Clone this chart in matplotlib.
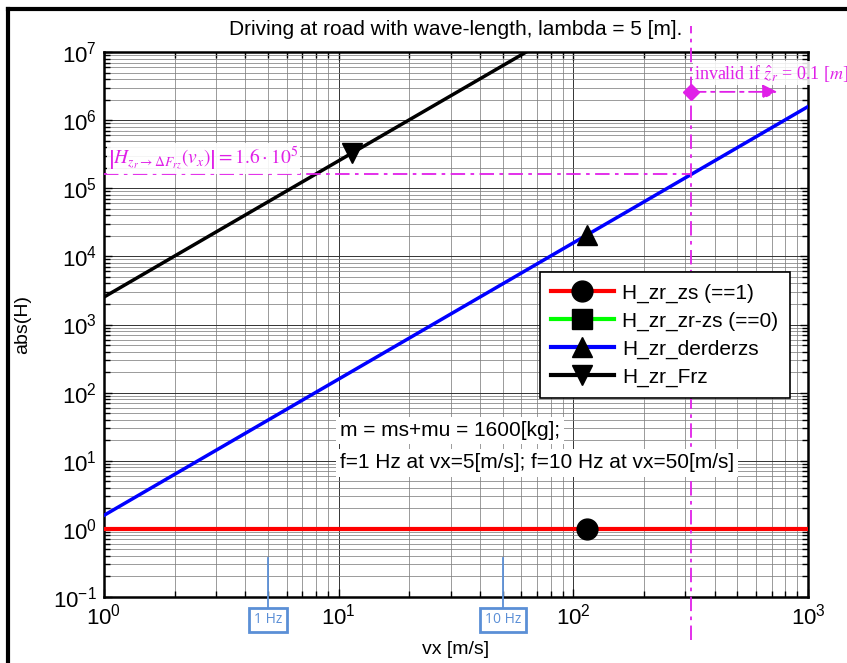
import matplotlib
matplotlib.use("Agg")
import matplotlib.pyplot as plt
from matplotlib.lines import Line2D

plt.rcParams['font.family'] = ['Liberation Sans', 'DejaVu Sans']
plt.rcParams['mathtext.fontset'] = 'stix'

# ---- data ----
vx_line = [1, 10, 100, 1000]
h_zs = [1, 1, 1, 1]
h_derderzs = [1.58, 158, 1.58e4, 1.58e6]
vx_frz = [1, 10, 63]
h_frz = [2.53e3, 2.53e5, 1.0e7]

marker_vx_zs = 114
marker_h_zs = 1
marker_vx_der = 114
marker_h_der = 2.05e4
marker_vx_frz = 11.4
marker_h_frz = 3.28e5

h_limit = 1.6e5
vx_limit = 318
hz_vx = [5, 50]
hz_labels = ['1 Hz', '10 Hz']

legend_labels = ['H_zr_zs (==1)', 'H_zr_zr-zs (==0)', 'H_zr_derderzs', 'H_zr_Frz']

fig = plt.figure(figsize=(8.47, 6.63), dpi=100)
ax = fig.add_axes([104/847, 1-597/663, (808-104)/847, (597-52)/663])
ax.set_xscale('log')
ax.set_yscale('log')
ax.set_xlim(1, 1000)
ax.set_ylim(0.1, 1e7)

mag = '#e020e8'
dashdot = (0, (8, 3, 2, 3))

ax.grid(True, which='major', color='0.2', lw=0.7)
ax.grid(True, which='minor', color='0.5', lw=0.55)
ax.set_axisbelow(True)

# lines
ax.plot(vx_line, h_zs, color='#ff0000', lw=3, zorder=3)
ax.plot(vx_line, h_derderzs, color='#0000ff', lw=2.5, zorder=3)
ax.plot(vx_frz, h_frz, color='black', lw=2.5, zorder=3)

# markers
ax.plot([marker_vx_zs], [marker_h_zs], 'o', color='black', ms=15, zorder=4)
ax.plot([marker_vx_der], [marker_h_der], '^', color='black', ms=15, zorder=4)
ax.plot([marker_vx_frz], [marker_h_frz], 'v', color='black', ms=15, zorder=4)

# magenta limit lines
ax.plot([1, vx_limit], [h_limit, h_limit], color=mag, lw=1.3, ls=dashdot, zorder=3)
ax.plot([vx_limit, vx_limit], [0.023, 2.4e7], color=mag, lw=1.3, ls=dashdot,
        zorder=3, clip_on=False)
ax.annotate('', xy=(740, 2.6e6), xytext=(vx_limit, 2.6e6),
            arrowprops=dict(arrowstyle='-|>', color=mag, lw=1.3, ls=dashdot,
                            mutation_scale=22, shrinkA=0, shrinkB=0), zorder=5)
ax.plot([vx_limit], [2.6e6], 'D', color=mag, ms=8, zorder=5)

ax.text(vx_limit * 1.03, 4.9e6, r'invalid if $\hat{z}_r$ = 0.1 [$m$]', color=mag,
        fontsize=13, family='Liberation Serif', va='center', ha='left', zorder=6,
        bbox=dict(facecolor='white', edgecolor='none', alpha=0.85, pad=1), clip_on=False)

ax.text(1.04, 2.75e5, r'$\left|H_{z_r\rightarrow\Delta F_{rz}}(v_x)\right| = 1.6\cdot10^5$',
        color=mag, fontsize=14, va='center', ha='left', zorder=6,
        bbox=dict(facecolor='white', edgecolor='none', alpha=0.9, pad=1))

# text box
ax.text(10.1, 27.5, 'm = ms+mu = 1600[kg];', fontsize=15, va='center', ha='left', zorder=6,
        bbox=dict(facecolor='white', edgecolor='none', pad=3))
ax.text(10.1, 9.3, 'f=1 Hz at vx=5[m/s]; f=10 Hz at vx=50[m/s]', fontsize=15, va='center',
        ha='left', zorder=6, bbox=dict(facecolor='white', edgecolor='none', pad=3))

# Hz callouts
hz_col = '#5b8fd6'
for v, lab in zip(hz_vx, hz_labels):
    ax.plot([v, v], [0.375, 0.07], color=hz_col, lw=1.3, clip_on=False, zorder=6)
    ax.text(v, 0.046, lab, color=hz_col, fontsize=10, ha='center', va='center',
            family='Open Sans', zorder=7,
            bbox=dict(facecolor='white', edgecolor=hz_col, lw=2, boxstyle='square,pad=0.35'),
            clip_on=False)

# legend
handles = [
    Line2D([], [], color='#ff0000', lw=3, marker='o', mfc='black', mec='black', ms=15),
    Line2D([], [], color='#00ff00', lw=3, marker='s', mfc='black', mec='black', ms=14),
    Line2D([], [], color='#0000ff', lw=3, marker='^', mfc='black', mec='black', ms=14),
    Line2D([], [], color='black', lw=3, marker='v', mfc='black', mec='black', ms=14),
]
leg = ax.legend(handles, legend_labels, loc='upper left', bbox_to_anchor=(0.619, 0.596),
                fontsize=15, frameon=True, fancybox=False, edgecolor='black',
                framealpha=1, handlelength=3.0, borderpad=0.55, labelspacing=0.42,
                handletextpad=0.4, borderaxespad=0)
leg.get_frame().set_linewidth(1.2)
leg.set_zorder(8)

# ticks
ax.tick_params(which='both', direction='in', top=True, right=True, width=1)
ax.tick_params(which='major', labelsize=16, length=6, pad=5)
ax.tick_params(which='minor', length=4)
for s in ax.spines.values():
    s.set_linewidth(1.8)

ax.set_title('Driving at road with wave-length, lambda = 5 [m].', fontsize=15, pad=12)
ax.set_ylabel('abs(H)', fontsize=14)
ax.yaxis.set_label_coords(-0.103, 0.5)
ax.set_xlabel('vx [m/s]', fontsize=14)
ax.xaxis.set_label_coords(0.5, -0.097)
ax.xaxis.label.set_va('center')

# outer frame (left and top visible)
fig.add_artist(plt.Line2D([8/847, 8/847], [0, 1 - 9/663], color='black', lw=3,
                          transform=fig.transFigure))
fig.add_artist(plt.Line2D([8/847, 1], [1 - 9/663, 1 - 9/663], color='black', lw=3,
                          transform=fig.transFigure))

fig.savefig('out.png', dpi=100)
